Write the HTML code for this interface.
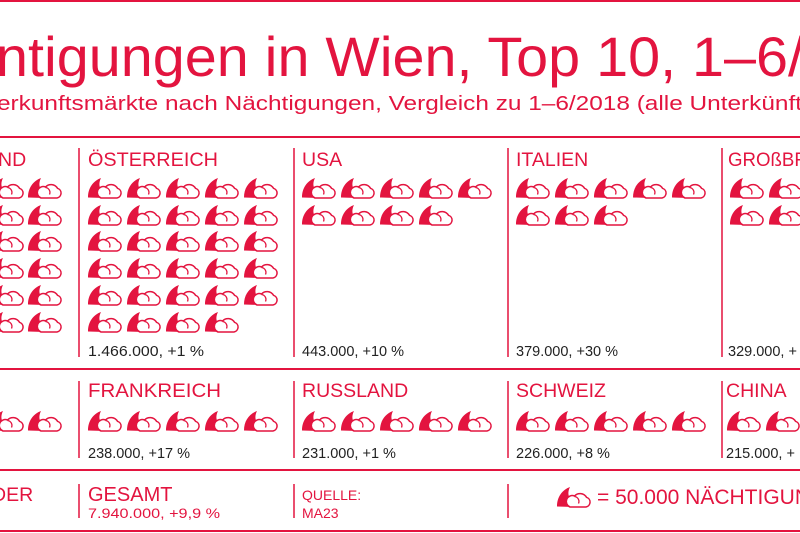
<!DOCTYPE html>
<html><head><meta charset="utf-8"><style>
html,body{margin:0;padding:0;background:#fff;}
svg{display:block;}
text{font-family:"Liberation Sans",sans-serif;}
.r{fill:#e3143f;}
.k{fill:#222;}
</style></head><body>
<svg width="800" height="533" viewBox="0 0 800 533" xmlns="http://www.w3.org/2000/svg">
<defs>
<g id="ic">
<path d="M0,19.5 C0,10 5,3 13,0 C10,6 11,12 18,14.5 L17,20 Z" fill="#e3143f"/>
<path d="M13,20 H29 A5,5 0 0 0 29.5,10.3 A7.5,7.5 0 0 0 17.5,9 A5.5,5.5 0 0 0 13,20 Z" fill="#fff" stroke="#e3143f" stroke-width="1.5"/>
<path d="M17.5,9.5 A5,5 0 0 1 21.5,16.5" fill="none" stroke="#e3143f" stroke-width="1.3"/>
</g>
</defs>
<g stroke="#e3143f" stroke-width="2">
<line x1="0" y1="1" x2="800" y2="1"/>
<line x1="0" y1="137" x2="800" y2="137"/>
<line x1="0" y1="369" x2="800" y2="369"/>
<line x1="0" y1="470" x2="800" y2="470"/>
<line x1="0" y1="531" x2="800" y2="531"/>
</g>
<g stroke="#e3143f" stroke-width="1.5">
<line x1="79" y1="148" x2="79" y2="357"/><line x1="294" y1="148" x2="294" y2="357"/><line x1="508" y1="148" x2="508" y2="357"/><line x1="722" y1="148" x2="722" y2="357"/>
<line x1="79" y1="381" x2="79" y2="458"/><line x1="294" y1="381" x2="294" y2="458"/><line x1="508" y1="381" x2="508" y2="458"/><line x1="722" y1="381" x2="722" y2="458"/>
<line x1="79" y1="484" x2="79" y2="518"/><line x1="294" y1="484" x2="294" y2="518"/><line x1="508" y1="484" x2="508" y2="518"/>
</g>
<text class="r" x="-4" y="76" font-size="56" textLength="808" lengthAdjust="spacingAndGlyphs">ntigungen in Wien, Top 10, 1–6/</text>
<text class="r" x="-3" y="110" font-size="20" textLength="805" lengthAdjust="spacingAndGlyphs">erkunftsmärkte nach Nächtigungen, Vergleich zu 1–6/2018 (alle Unterkünft</text>
<g class="r" font-size="19.5">
<text x="-2" y="166">ND</text>
<text x="88" y="166" textLength="130" lengthAdjust="spacingAndGlyphs">ÖSTERREICH</text>
<text x="302" y="166">USA</text>
<text x="516" y="166">ITALIEN</text>
<text x="728" y="166" textLength="85" lengthAdjust="spacingAndGlyphs">GROßBRI</text>
<text x="88" y="397" textLength="133" lengthAdjust="spacingAndGlyphs">FRANKREICH</text>
<text x="302" y="397">RUSSLAND</text>
<text x="516" y="397">SCHWEIZ</text>
<text x="726" y="397">CHINA</text>
<text x="-8" y="501">DER</text>
<text x="88" y="501" font-size="20">GESAMT</text>
</g>
<g class="k" font-size="14.5">
<text x="88" y="356" textLength="116" lengthAdjust="spacingAndGlyphs">1.466.000, +1 %</text>
<text x="302" y="356">443.000, +10 %</text>
<text x="516" y="356">379.000, +30 %</text>
<text x="728" y="356">329.000, +</text>
<text x="88" y="458">238.000, +17 %</text>
<text x="302" y="458">231.000, +1 %</text>
<text x="516" y="458">226.000, +8 %</text>
<text x="726" y="458">215.000, +</text>
</g>
<g class="r" font-size="14">
<text x="88" y="518" textLength="132" lengthAdjust="spacingAndGlyphs">7.940.000, +9,9 %</text>
<text x="302" y="500">QUELLE:</text>
<text x="302" y="518">MA23</text>
</g>
<text class="r" x="597" y="504" font-size="21">= 50.000 NÄCHTIGUNGEN</text>
<use href="#ic" x="557" y="487"/>
<g>
<use href="#ic" x="-10" y="178"/><use href="#ic" x="28" y="178"/>
<use href="#ic" x="-10" y="205"/><use href="#ic" x="28" y="205"/>
<use href="#ic" x="-10" y="231"/><use href="#ic" x="28" y="231"/>
<use href="#ic" x="-10" y="258"/><use href="#ic" x="28" y="258"/>
<use href="#ic" x="-10" y="285"/><use href="#ic" x="28" y="285"/>
<use href="#ic" x="-10" y="312"/><use href="#ic" x="28" y="312"/>
<use href="#ic" x="88" y="178"/><use href="#ic" x="127" y="178"/><use href="#ic" x="166" y="178"/><use href="#ic" x="205" y="178"/><use href="#ic" x="244" y="178"/>
<use href="#ic" x="88" y="205"/><use href="#ic" x="127" y="205"/><use href="#ic" x="166" y="205"/><use href="#ic" x="205" y="205"/><use href="#ic" x="244" y="205"/>
<use href="#ic" x="88" y="231"/><use href="#ic" x="127" y="231"/><use href="#ic" x="166" y="231"/><use href="#ic" x="205" y="231"/><use href="#ic" x="244" y="231"/>
<use href="#ic" x="88" y="258"/><use href="#ic" x="127" y="258"/><use href="#ic" x="166" y="258"/><use href="#ic" x="205" y="258"/><use href="#ic" x="244" y="258"/>
<use href="#ic" x="88" y="285"/><use href="#ic" x="127" y="285"/><use href="#ic" x="166" y="285"/><use href="#ic" x="205" y="285"/><use href="#ic" x="244" y="285"/>
<use href="#ic" x="88" y="312"/><use href="#ic" x="127" y="312"/><use href="#ic" x="166" y="312"/><use href="#ic" x="205" y="312"/>
<use href="#ic" x="302" y="178"/><use href="#ic" x="341" y="178"/><use href="#ic" x="380" y="178"/><use href="#ic" x="419" y="178"/><use href="#ic" x="458" y="178"/>
<use href="#ic" x="302" y="205"/><use href="#ic" x="341" y="205"/><use href="#ic" x="380" y="205"/><use href="#ic" x="419" y="205"/>
<use href="#ic" x="516" y="178"/><use href="#ic" x="555" y="178"/><use href="#ic" x="594" y="178"/><use href="#ic" x="633" y="178"/><use href="#ic" x="672" y="178"/>
<use href="#ic" x="516" y="205"/><use href="#ic" x="555" y="205"/><use href="#ic" x="594" y="205"/>
<use href="#ic" x="730" y="178"/><use href="#ic" x="769" y="178"/>
<use href="#ic" x="730" y="205"/><use href="#ic" x="769" y="205"/>
<use href="#ic" x="-10" y="411"/><use href="#ic" x="28" y="411"/>
<use href="#ic" x="88" y="411"/><use href="#ic" x="127" y="411"/><use href="#ic" x="166" y="411"/><use href="#ic" x="205" y="411"/><use href="#ic" x="244" y="411"/>
<use href="#ic" x="302" y="411"/><use href="#ic" x="341" y="411"/><use href="#ic" x="380" y="411"/><use href="#ic" x="419" y="411"/><use href="#ic" x="458" y="411"/>
<use href="#ic" x="516" y="411"/><use href="#ic" x="555" y="411"/><use href="#ic" x="594" y="411"/><use href="#ic" x="633" y="411"/><use href="#ic" x="672" y="411"/>
<use href="#ic" x="727" y="411"/><use href="#ic" x="766" y="411"/>
</g>
</svg>
</body></html>
